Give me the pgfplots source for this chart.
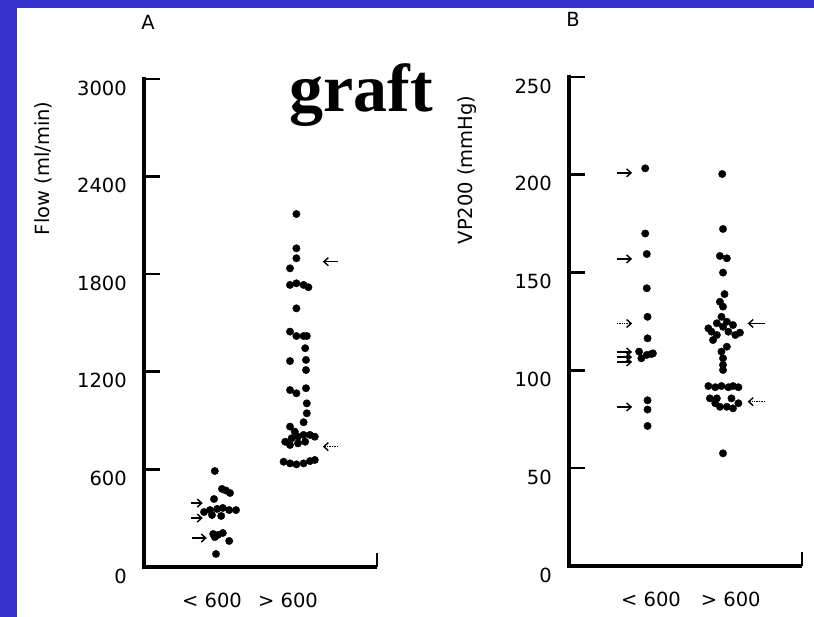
\documentclass[border=0pt]{standalone}
\usepackage{fontspec}
\setmainfont{DejaVu Sans}
\newfontfamily\serifface{Liberation Serif}
\usepackage{pgfplots}
\pgfplotsset{compat=1.18}
\usetikzlibrary{arrows.meta}
\definecolor{slideblue}{RGB}{51,51,204}
\newcommand\sz{\fontsize{19.5bp}{22bp}\selectfont}

\tikzset{
  pointer/.style={-{Straight Barb[length=4.5bp,width=8bp]}, line width=1.4bp},
  axisline/.style={line width=3.6bp, black, line cap=rect},
  tickline/.style={line width=2.6bp, black},
}
\pgfplotsset{
  panel/.style={
    scale only axis, width=233bp,
    axis x line*=bottom, axis y line*=left,
    x axis line style={-, line width=3bp, black},
    y axis line style={draw=none},
    clip=false,
    tick align=inside, major tick length=16bp,
    ytick style={draw=none},
    xtick style={draw=none},
    xtick={0.925,1.875},
    xticklabels={< 600,> 600},
    every tick label/.append style={font=\sz},
    yticklabel style={anchor=east, inner sep=0pt, xshift=-17bp, yshift=-9bp},
    xticklabel style={anchor=center, inner sep=0pt, yshift=-33bp},
    label style={font=\sz},
    every axis title shift=0pt,
    title style={font=\sz, anchor=center, inner sep=0pt},
  },
  dots/.style={only marks, mark=*, mark size=3.7bp, black},
}

\begin{document}
\begin{tikzpicture}
% slide background
\fill[slideblue] (0,0) rectangle (814bp,617bp);
\fill[white] (17bp,0) rectangle (814bp,609bp);

% ---------- A: graft flow ----------
\begin{axis}[panel,
  at={(144bp,50bp)}, anchor=south west, height=488bp,
  xmin=0.075, xmax=2.9875, ymin=0, ymax=3000,
  ytick={0,600,1200,1800,2400,3000},
  yticklabels={0,600,1200,1800,2400,3000},
  ylabel={Flow (ml/min)},
  ylabel style={at={(rel axis cs:-0.4335,0.817)}, anchor=center},
  title={A}, title style={at={(rel axis cs:0.017,1.117)}},
]
% flow < 600 ml/min
\addplot[dots] coordinates {
  (0.96,590) (1.05,480) (1.15,455) (1.10,470) (0.95,418)
  (0.825,338) (0.90,350) (0.99,357) (1.06,363) (1.14,350) (1.225,350)
  (1.04,314) (0.925,320)
  (0.94,203) (1.00,197) (1.06,209) (1.14,160) (0.96,184)
  (0.975,80)
};
% flow > 600 ml/min
\addplot[dots] coordinates {
  (1.98,2170) (1.98,1959) (1.98,1898) (1.90,1836)
  (1.90,1734) (1.98,1744) (2.07,1734) (2.13,1720)
  (1.98,1590)
  (1.90,1447) (1.98,1420) (2.07,1420) (2.11,1420)
  (2.09,1345) (1.90,1266) (2.10,1273) (2.10,1211)
  (1.90,1088) (1.98,1068) (2.10,1099)
  (2.11,1006) (2.11,945) (2.07,890)
  (1.90,863) (1.96,832) (1.84,770) (1.92,791) (2.00,801) (2.07,812)
  (2.15,812) (2.21,801) (1.90,750) (2.00,760) (2.09,770)
  (1.82,647) (1.90,637) (1.98,631) (2.07,637) (2.15,651) (2.21,658)
};
% y axis with inward ticks, end tick of the x axis
\draw[axisline] (rel axis cs:0,0) -- (rel axis cs:0,1);
\pgfplotsinvokeforeach{600,1200,1800,2400,3000}{
  \draw[tickline] (axis cs:0.075,#1) -- ++(16bp,0pt);
}
\draw[line width=2.8bp] (rel axis cs:1,0) -- (rel axis cs:1,0.028);
% markers
\draw[pointer] (axis cs:2.50,1877) -- (axis cs:2.31,1877);
\draw[pointer, densely dotted] (axis cs:2.50,740) -- (axis cs:2.31,740);
\draw[pointer] (axis cs:0.675,178) -- (axis cs:0.86,178);
\draw[pointer] (axis cs:0.66,393) -- (axis cs:0.81,393);
\draw[pointer] (axis cs:0.66,301) -- (axis cs:0.81,301);
\end{axis}

% ---------- B: VP200 ----------
\begin{axis}[panel,
  at={(569bp,51bp)}, anchor=south west, height=489bp,
  xmin=0, xmax=3.026, ymin=0, ymax=250,
  xtick={1.065,2.10},
  ytick={0,50,100,150,200,250},
  yticklabels={0,50,100,150,200,250},
  ylabel={VP200 (mmHg)},
  ylabel style={at={(rel axis cs:-0.438,0.81)}, anchor=center},
  title={B}, title style={at={(rel axis cs:0.017,1.117)}},
]
% flow < 600 ml/min
\addplot[dots] coordinates {
  (0.99,203.3) (0.99,170) (1.01,159.5) (1.01,142) (1.02,127.4) (1.02,116.4)
  (0.91,109.6) (0.94,106.2) (1.01,107.9) (1.07,108.4) (1.09,108.7)
  (1.02,84.7) (1.02,80) (1.02,71.6)
};
% flow > 600 ml/min
\addplot[dots] coordinates {
  (1.99,200.4) (2.00,172.3) (1.96,158.5) (2.05,157.3) (2.00,150)
  (2.02,139) (1.96,135.1) (2.00,132.6)
  (1.98,127.4) (1.92,124.1) (2.05,124.9) (2.13,123.2) (2.22,119.3) (1.85,119.8)
  (1.92,118.1) (2.00,122.3) (2.07,119.8) (2.16,118.1) (1.81,121.5) (1.87,115.5)
  (2.05,112.1) (1.98,109.6)
  (2.00,106.2) (2.00,102.8) (2.00,100.2)
  (1.81,92) (1.90,91.4) (1.98,92) (2.07,91.4) (2.13,92) (2.20,91.4)
  (1.83,85.7) (1.90,83.2) (1.96,81.4) (2.05,81.4) (2.13,80.6) (2.20,83.2)
  (2.11,85.7) (1.92,85.7)
  (2.00,57.6)
};
\draw[axisline] (rel axis cs:0,0) -- (rel axis cs:0,1);
\pgfplotsinvokeforeach{50,100,150,200,250}{
  \draw[tickline] (axis cs:0,#1) -- ++(16bp,0pt);
}
\draw[line width=2.8bp] (rel axis cs:1,0) -- (rel axis cs:1,0.028);
% markers
\draw[pointer] (axis cs:0.62,201) -- (axis cs:0.82,201);
\draw[pointer] (axis cs:0.62,157) -- (axis cs:0.82,157);
\draw[pointer, densely dotted] (axis cs:0.62,124) -- (axis cs:0.82,124);
\draw[pointer] (axis cs:0.62,109.4) -- (axis cs:0.82,109.4);
\draw[pointer] (axis cs:0.62,106.8) -- (axis cs:0.82,106.8);
\draw[pointer] (axis cs:0.62,104.3) -- (axis cs:0.82,104.3);
\draw[pointer] (axis cs:0.62,81.3) -- (axis cs:0.82,81.3);
\draw[pointer] (axis cs:2.545,124) -- (axis cs:2.32,124);
\draw[pointer, densely dotted] (axis cs:2.545,84) -- (axis cs:2.32,84);
\end{axis}

\node[anchor=base, font={\serifface\bfseries\fontsize{68bp}{70bp}\selectfont}]
  at (361bp,505bp) {graft};
\end{tikzpicture}
\end{document}
